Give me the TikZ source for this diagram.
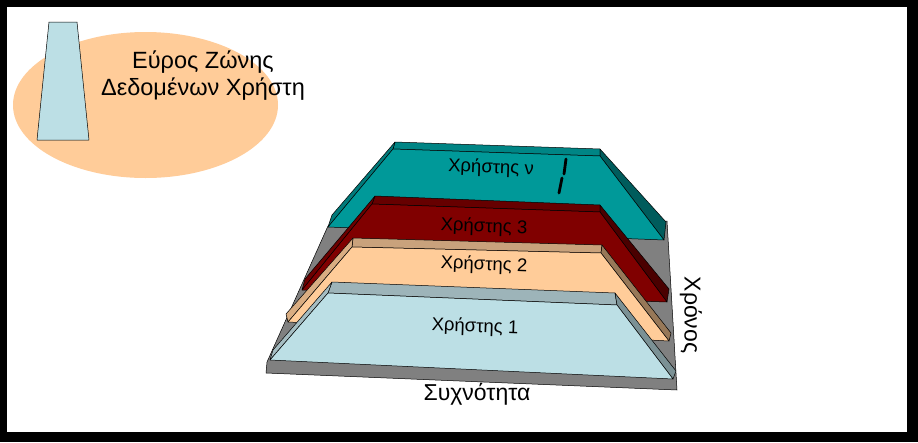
\documentclass[tikz,border=0pt]{standalone}
\usepackage{fontspec}
\setmainfont{Liberation Sans}
\definecolor{tealtop}{HTML}{009999}
\definecolor{tealback}{HTML}{008585}
\definecolor{tealright}{HTML}{005C5C}
\definecolor{tealleft}{HTML}{007A7A}
\definecolor{redtop}{HTML}{800000}
\definecolor{redback}{HTML}{660000}
\definecolor{redright}{HTML}{4A0000}
\definecolor{redleft}{HTML}{6B0000}
\definecolor{peachtop}{HTML}{FFCC99}
\definecolor{peachback}{HTML}{C9A27C}
\definecolor{peachright}{HTML}{977858}
\definecolor{peachleft}{HTML}{D9AD82}
\definecolor{bluetop}{HTML}{BCDFE5}
\definecolor{blueback}{HTML}{9DB4B9}
\definecolor{blueright}{HTML}{7B9195}
\definecolor{blueleft}{HTML}{A5BDC2}
\definecolor{backgrey}{HTML}{808080}
\tikzset{
  face/.style={draw=black, line width=0.5pt, line join=round},
  slabtext/.style={font=\fontsize{18.5}{22}\selectfont, text=black, inner sep=0pt},
  axistext/.style={font=\fontsize{23}{27}\selectfont, text=black, inner sep=0pt},
  legendtext/.style={font=\fontsize{23.5}{28}\selectfont, text=black, inner sep=0pt},
}
% #1 prefix, #2 top, #3 back, #4 right, #5 left
\newcommand{\myslab}[5]{%
  \filldraw[face, fill=#3] (#1BL) -- (#1BR) -- (#1BRu) -- (#1BLu) -- cycle;
  \filldraw[face, fill=#4] (#1BR) -- (#1FR) -- (#1FRu) -- (#1BRu) -- cycle;
  \filldraw[face, fill=#5] (#1FL) -- (#1BL) -- (#1BLu) -- (#1FLu) -- cycle;
  \filldraw[face, fill=#2] (#1FL) -- (#1FR) -- (#1BR) -- (#1BL) -- cycle;
}
\begin{document}
\begin{tikzpicture}[x=1pt,y=-1pt]
\useasboundingbox (0,0) rectangle (918,442);
% frame
\fill[black] (0,0) rectangle (918,442);
\fill[white] (7,7) rectangle (907,432);

% legend
\fill[peachtop] (145.5,105) ellipse [x radius=132.5, y radius=73];
\filldraw[face, fill=bluetop] (49,22) -- (77,22) -- (89,140) -- (37,140) -- cycle;
\node[legendtext] (leg1) at (203,62) {Εύρος Ζώνης};
\node[legendtext] (leg2) at (203,89) {Δεδομένων Χρήστη};

% coordinates
\coordinate (tFL) at (328,227); \coordinate (tFR) at (664,240);
\coordinate (tBR) at (600,156); \coordinate (tBL) at (393,149);
\coordinate (tFLu) at (332,215); \coordinate (tFRu) at (666,222);
\coordinate (tBRu) at (600,149); \coordinate (tBLu) at (395,142);

\coordinate (rFL) at (302,290); \coordinate (rFR) at (667,302);
\coordinate (rBR) at (600,212); \coordinate (rBL) at (372,204);
\coordinate (rFLu) at (305,279); \coordinate (rFRu) at (669,289);
\coordinate (rBRu) at (600,205); \coordinate (rBLu) at (375,196);

\coordinate (pFL) at (288,322); \coordinate (pFR) at (669,341);
\coordinate (pBR) at (601,253); \coordinate (pBL) at (352,247);
\coordinate (pFLu) at (286,314); \coordinate (pFRu) at (671,333);
\coordinate (pBRu) at (602,245); \coordinate (pBLu) at (353,238);

\coordinate (bFL) at (270,360); \coordinate (bFR) at (673,379);
\coordinate (bBR) at (617,305); \coordinate (bBL) at (328,293);
\coordinate (bFLu) at (273,350); \coordinate (bFRu) at (676,371);
\coordinate (bBRu) at (615,293); \coordinate (bBLu) at (332,282);

% grey backdrop
\filldraw[face, fill=backgrey] (328,226) -- (667,221) -- (677,390) -- (266,373) -- (267,362) -- cycle;

\myslab{t}{tealtop}{tealback}{tealright}{tealleft}
\myslab{r}{redtop}{redback}{redright}{redleft}
\myslab{p}{peachtop}{peachback}{peachright}{peachleft}
\myslab{b}{bluetop}{blueback}{blueright}{blueleft}

% labels
\node[slabtext, rotate=-2] (un) at (491,168) {Χρήστης ν};
\draw[line width=2.8pt, line cap=round, line join=round] (566,159) -- (564,174) (562,178) -- (559,193);
\node[slabtext, rotate=-2] (u3) at (484,227) {Χρήστης 3};
\node[slabtext, rotate=-2] (u2) at (484,265) {Χρήστης 2};
\node[slabtext, rotate=-2] (u1) at (475,327) {Χρήστης 1};
\node[axistext] (freq) at (477,394) {Συχνότητα};
\node[axistext, rotate=-90] (time) at (691,315) {Χρόνος};
\end{tikzpicture}
\end{document}
